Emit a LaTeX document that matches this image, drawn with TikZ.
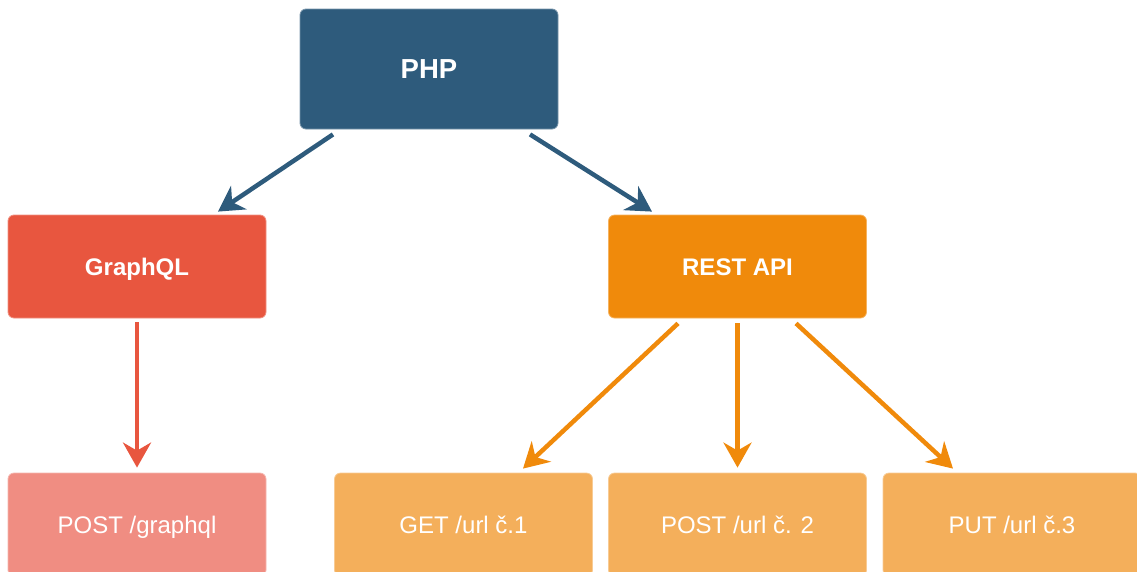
\documentclass[tikz,border=0pt]{standalone}
\usepackage{fontspec}
\setmainfont{Liberation Sans}
\usetikzlibrary{arrows.meta}

\definecolor{phpblue}{HTML}{2E5B7C}
\definecolor{gqlred}{HTML}{E8563F}
\definecolor{restorange}{HTML}{F08A0B}
\definecolor{gqllight}{HTML}{F08D82}
\definecolor{restlight}{HTML}{F4AF5B}

% boxes centre on the capital height, so descenders do not lift the labels
\tikzset{
  box/.style={rectangle, rounded corners=6pt, inner sep=0pt,
    minimum width=258pt, minimum height=103pt, text=white,
    text height=17.2pt, text depth=0pt,
    draw=white!35!#1, line width=0.8pt, fill=#1},
  headbox/.style={box=#1, font=\bfseries\fontsize{24}{28}\selectfont},
  leafbox/.style={box=#1, font=\fontsize{24}{28}\selectfont},
  link/.style={draw=#1, line width=4.5pt,
    -{Stealth[length=25pt,width=28pt,inset=8pt]}}
}

\begin{document}
\begin{tikzpicture}[x=1pt,y=-1pt]
  \useasboundingbox (0,0) rectangle (1137,571);

  % root
  \node[headbox=phpblue, minimum height=120pt, text height=19.7pt,
        font=\bfseries\fontsize{27.5}{32}\selectfont] (php) at (429,69) {PHP};

  % second level
  \node[headbox=gqlred]     (gql)  at (137,266.5)   {GraphQL};
  \node[headbox=restorange] (rest) at (737.5,266.5) {REST API};

  % endpoints
  \node[leafbox=gqllight]  (gqlpost) at (137,524.5)   {POST /graphql};
  \node[leafbox=restlight] (get)     at (463.5,524.5) {GET /url č.1};
  \node[leafbox=restlight] (post)    at (737.5,524.5) {POST /url č. 2};
  \node[leafbox=restlight] (put)     at (1012,524.5)  {PUT /url č.3};

  % connectors
  \draw[link=phpblue] ([xshift=-96pt,yshift=-5pt]php.south)
    -- ([xshift=81pt,yshift=3pt]gql.north);
  \draw[link=phpblue] ([xshift=101pt,yshift=-5pt]php.south)
    -- ([xshift=-85.5pt,yshift=3pt]rest.north);

  \draw[link=gqlred] ([yshift=-4pt]gql.south) -- ([yshift=5pt]gqlpost.north);

  \draw[link=restorange] ([xshift=-59.5pt,yshift=-5pt]rest.south)
    -- ([xshift=59.5pt,yshift=4pt]get.north);
  \draw[link=restorange] ([yshift=-5pt]rest.south)
    -- ([yshift=5pt]post.north);
  \draw[link=restorange] ([xshift=58.5pt,yshift=-5pt]rest.south)
    -- ([xshift=-59pt,yshift=4pt]put.north);
\end{tikzpicture}
\end{document}
